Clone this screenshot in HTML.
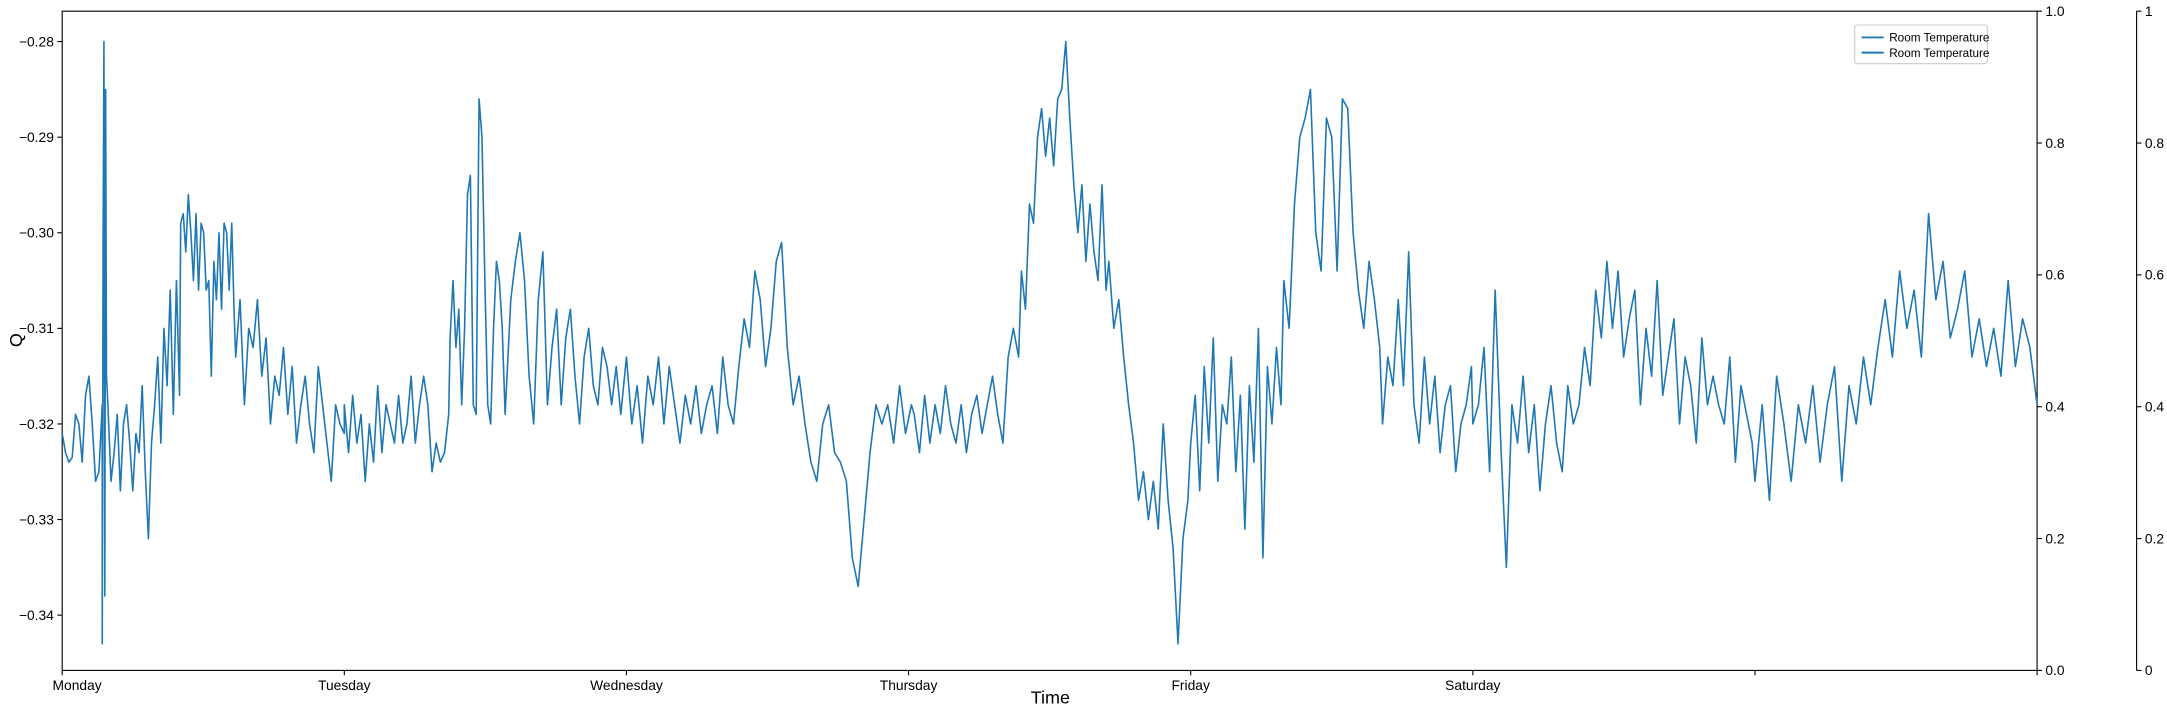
<!DOCTYPE html>
<html><head><meta charset="utf-8"><style>
html,body{margin:0;padding:0;background:#fff;width:2167px;height:712px;overflow:hidden}
svg{display:block;font-family:"Liberation Sans","DejaVu Sans",sans-serif}
</style></head><body>
<svg id="chart" width="2167" height="712" viewBox="0 0 1568 515" xmlns="http://www.w3.org/2000/svg">
<g id="axes"></g>
<g id="plot"></g>
</svg>
<script>
const dayLabels = ["Monday","Tuesday","Wednesday","Thursday","Friday","Saturday","",""];
const yTicks = [-0.34,-0.33,-0.32,-0.31,-0.30,-0.29,-0.28];
const yTickLabels = ["\u22120.34","\u22120.33","\u22120.32","\u22120.31","\u22120.30","\u22120.29","\u22120.28"];
const rTicks = [0,0.2,0.4,0.6,0.8,1.0];
const rTickLabels = ["0.0","0.2","0.4","0.6","0.8","1.0"];
const r2TickLabels = ["0","0.2","0.4","0.6","0.8","1"];
const segStart = [0,0.142,0.162,0.42,0.615,1.0,1.375,1.59,2.0,2.57,3.02,3.40,3.71,4.0,4.33,4.68,5.0,6.0];
const segEnd = [0.142,0.157,0.416,0.61,1.0,1.37,1.57,1.98,2.55,3.01,3.39,3.70,3.99,4.32,4.67,4.995,5.99,7.0];
const segValues = [
[-0.321,-0.323,-0.324,-0.3235,-0.319,-0.320,-0.324,-0.317,-0.315,-0.320,-0.326,-0.325,-0.318],
[-0.343,-0.301,-0.28,-0.338,-0.285,-0.315],
[-0.318,-0.326,-0.323,-0.319,-0.327,-0.320,-0.318,-0.322,-0.327,-0.321,-0.323,-0.316,-0.325,-0.332,-0.322,-0.318,-0.313,-0.322,-0.310,-0.316,-0.306,-0.319,-0.305,-0.317],
[-0.299,-0.298,-0.302,-0.296,-0.3,-0.305,-0.298,-0.306,-0.299,-0.300,-0.306,-0.305,-0.315,-0.303,-0.307,-0.3,-0.308,-0.299,-0.300,-0.306,-0.299,-0.309],
[-0.313,-0.307,-0.318,-0.310,-0.312,-0.307,-0.315,-0.311,-0.320,-0.315,-0.317,-0.312,-0.319,-0.314,-0.322,-0.318,-0.315,-0.320,-0.323,-0.314,-0.318,-0.322,-0.326,-0.318,-0.320,-0.321],
[-0.318,-0.323,-0.317,-0.322,-0.319,-0.326,-0.320,-0.324,-0.316,-0.323,-0.318,-0.320,-0.322,-0.317,-0.322,-0.320,-0.315,-0.322,-0.318,-0.315,-0.318,-0.325,-0.322,-0.324,-0.323,-0.319],
[-0.311,-0.305,-0.312,-0.308,-0.318,-0.310,-0.296,-0.294,-0.318,-0.319,-0.286,-0.290,-0.305,-0.318,-0.320,-0.310,-0.303,-0.305,-0.310,-0.319],
[-0.307,-0.303,-0.300,-0.305,-0.315,-0.320,-0.307,-0.302,-0.318,-0.312,-0.308,-0.318,-0.311,-0.308,-0.315,-0.320,-0.313,-0.310,-0.316,-0.318,-0.312,-0.314,-0.318,-0.314,-0.319],
[-0.313,-0.320,-0.316,-0.322,-0.315,-0.318,-0.313,-0.320,-0.314,-0.318,-0.322,-0.317,-0.320,-0.316,-0.321,-0.318,-0.316,-0.321,-0.313,-0.318,-0.320,-0.314,-0.309,-0.312,-0.304,-0.307,-0.314,-0.310,-0.303,-0.301],
[-0.312,-0.318,-0.315,-0.320,-0.324,-0.326,-0.320,-0.318,-0.323,-0.324,-0.326,-0.334,-0.337,-0.330,-0.323,-0.318,-0.320,-0.318,-0.322,-0.316,-0.321,-0.318],
[-0.319,-0.323,-0.317,-0.322,-0.318,-0.321,-0.316,-0.320,-0.322,-0.318,-0.323,-0.319,-0.317,-0.321,-0.318,-0.315,-0.319,-0.322,-0.313,-0.310,-0.313],
[-0.304,-0.308,-0.297,-0.299,-0.290,-0.287,-0.292,-0.288,-0.293,-0.286,-0.285,-0.280,-0.288,-0.295,-0.300,-0.295,-0.303,-0.297,-0.302,-0.305,-0.295,-0.306],
[-0.303,-0.310,-0.307,-0.313,-0.318,-0.322,-0.328,-0.325,-0.330,-0.326,-0.331,-0.320,-0.328,-0.333,-0.343,-0.332,-0.328],
[-0.322,-0.317,-0.327,-0.314,-0.322,-0.311,-0.326,-0.318,-0.320,-0.313,-0.325,-0.317,-0.331,-0.316,-0.324,-0.310,-0.334,-0.314,-0.320,-0.312,-0.318],
[-0.305,-0.310,-0.297,-0.290,-0.288,-0.285,-0.300,-0.304,-0.288,-0.290,-0.304,-0.286,-0.287,-0.300,-0.306,-0.310,-0.303,-0.307,-0.312],
[-0.320,-0.313,-0.316,-0.307,-0.316,-0.302,-0.318,-0.322,-0.313,-0.320,-0.315,-0.323,-0.318,-0.316,-0.325,-0.320,-0.318,-0.314],
[-0.320,-0.318,-0.312,-0.325,-0.306,-0.322,-0.335,-0.318,-0.322,-0.315,-0.323,-0.318,-0.327,-0.320,-0.316,-0.322,-0.325,-0.316,-0.320,-0.318,-0.312,-0.316,-0.306,-0.311,-0.303,-0.310,-0.304,-0.313,-0.309,-0.306,-0.318,-0.310,-0.315,-0.305,-0.317,-0.313,-0.309,-0.320,-0.313,-0.316,-0.322,-0.311,-0.318,-0.315,-0.318,-0.320,-0.313,-0.324,-0.316,-0.319,-0.322],
[-0.326,-0.318,-0.328,-0.315,-0.320,-0.326,-0.318,-0.322,-0.316,-0.324,-0.318,-0.314,-0.326,-0.316,-0.320,-0.313,-0.318,-0.312,-0.307,-0.313,-0.304,-0.310,-0.306,-0.313,-0.298,-0.307,-0.303,-0.311,-0.308,-0.304,-0.313,-0.309,-0.314,-0.310,-0.315,-0.305,-0.314,-0.309,-0.312,-0.318]
];

const L=45,R=1474,T=8,B=485;
const xs = d => L + d/7*(R-L);
const ys = v => 30 + (v+0.28)/(-0.06)*415;
const rs = v => B - v*(B-T);
const NS="http://www.w3.org/2000/svg";
const axes=document.getElementById('axes'), plot=document.getElementById('plot');
function mk(tag,attrs,parent,text){const e=document.createElementNS(NS,tag);for(const k in attrs)e.setAttribute(k,attrs[k]);if(text!==undefined)e.textContent=text;parent.appendChild(e);return e;}

let f=mk('rect',{x:L,y:T,width:R-L,height:B-T,fill:'none',stroke:'#000','stroke-width':0.8},axes);


let sp=mk('line',{x1:1546,y1:T,x2:1546,y2:B,stroke:'#000','stroke-width':0.8},axes);



yTicks.forEach((v,i)=>{const y=ys(v);
 mk('line',{x1:L-3.5,y1:y,x2:L,y2:y,stroke:'#000','stroke-width':0.8},axes);
 const t=mk('text',{x:L-6,y:y+3.5,'text-anchor':'end','font-size':10,fill:'#000'},axes,yTickLabels[i]);
 
 
});
rTicks.forEach((v,i)=>{const y=rs(v);
 mk('line',{x1:R,y1:y,x2:R+3.5,y2:y,stroke:'#000','stroke-width':0.8},axes);
 const t=mk('text',{x:R+6,y:y+3.5,'font-size':10,fill:'#000'},axes,rTickLabels[i]);
 
 
 mk('line',{x1:1546,y1:y,x2:1549.5,y2:y,stroke:'#000','stroke-width':0.8},axes);
 const t2=mk('text',{x:1552,y:y+3.5,'font-size':10,fill:'#000'},axes,r2TickLabels[i]);
 
 
});
dayLabels.forEach((lab,i)=>{const x=xs(i);
 mk('line',{x1:x,y1:B,x2:x,y2:B+3.5,stroke:'#000','stroke-width':0.8},axes);
 if(lab){const t=mk('text',{x:i===0?L-7:x,y:B+14,'text-anchor':i===0?'start':'middle','font-size':10,fill:'#000'},axes,lab);
 
 }
});
let xt=mk('text',{x:760,y:509,'text-anchor':'middle','font-size':13,fill:'#000'},axes,'Time');


let yt=mk('text',{x:0,y:0,transform:'translate(16,246) rotate(-90)','text-anchor':'middle','font-size':13,fill:'#000'},axes,'Q');



let pts=[];
segValues.forEach((vals,s)=>{const n=vals.length;vals.forEach((v,j)=>{const d=segStart[s]+(n>1?j/(n-1):0)*(segEnd[s]-segStart[s]);pts.push(xs(d).toFixed(2)+','+ys(v).toFixed(2));});});
let line=mk('polyline',{points:pts.join(' '),fill:'none',stroke:'#1f77b4','stroke-width':1.15,'stroke-linejoin':'round'},plot);



const lg=mk('g',{},axes);


mk('rect',{x:1342,y:18,width:96,height:28,rx:2,fill:'#fff',stroke:'#ccc','stroke-width':0.8},lg);
[0,1].forEach(i=>{const y=27+i*11;
 mk('line',{x1:1347,y1:y,x2:1363,y2:y,stroke:'#1f77b4','stroke-width':1.4},lg);
 const t=mk('text',{x:1367,y:y+3,'font-size':8.5,fill:'#000'},lg,'Room Temperature');
 
 
});
</script>
</body></html>
